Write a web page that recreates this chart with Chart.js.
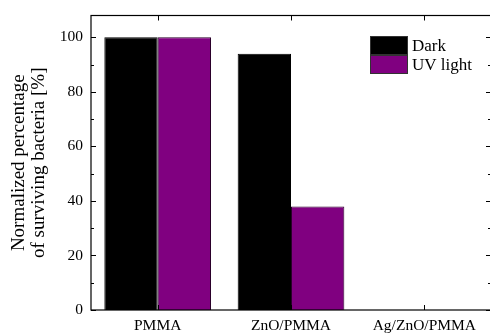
<!DOCTYPE html>
<html lang="en">
<head>
    <meta charset="UTF-8">
    <title>Surviving bacteria</title>
    <script src="https://cdn.jsdelivr.net/npm/chart.js"></script>
    <style>
        body {
            margin: 0;
            padding: 0;
            background: white;
            overflow: hidden;
        }
        .wrap {
            width: 490px;
            height: 333px;
            overflow: hidden;
        }
    </style>
</head>
<body>
    <div class="wrap">
        <canvas id="bacteriaChart" width="492" height="333"></canvas>
    </div>

    <script>
        const categories = ['PMMA', 'ZnO/PMMA', 'Ag/ZnO/PMMA'];
        const darkValues = [100, 94, 0];
        const uvValues = [100, 38, 0];
        const seriesNames = ['Dark', 'UV light'];
        const yTicks = [0, 20, 40, 60, 80, 100];

        const serif = "'Liberation Serif', 'Times New Roman', serif";

        // frame, inward ticks and the boxed legend in the top right corner
        const framePlugin = {
            id: 'frame',
            afterDraw(chart) {
                const c = chart.ctx;
                const a = chart.chartArea;
                const x = chart.scales.x;
                const y = chart.scales.y;
                c.save();
                c.strokeStyle = '#000';
                c.lineWidth = 1.2;
                c.strokeRect(a.left, a.top, a.right - a.left, a.bottom - a.top);

                c.lineWidth = 1;
                c.beginPath();
                for (let v = 0; v <= 100; v += 10) {
                    const py = Math.round(y.getPixelForValue(v)) + 0.5;
                    const len = v % 20 === 0 ? 5 : 3;
                    c.moveTo(a.left, py); c.lineTo(a.left + len, py);
                    c.moveTo(a.right, py); c.lineTo(a.right - len, py);
                }
                categories.forEach((_, i) => {
                    const px = Math.round(x.getPixelForValue(i)) + 0.5;
                    c.moveTo(px, a.bottom); c.lineTo(px, a.bottom - 5);
                    c.moveTo(px, a.top); c.lineTo(px, a.top + 5);
                });
                c.stroke();

                // legend
                const lx = 370, ly = 36, bw = 38, bh = 19;
                c.font = '17px ' + serif;
                c.textBaseline = 'middle';
                chart.data.datasets.forEach((ds, i) => {
                    const top = ly + i * bh;
                    c.fillStyle = ds.backgroundColor;
                    c.fillRect(lx, top, bw, bh);
                    c.strokeStyle = '#333';
                    c.lineWidth = 1;
                    c.strokeRect(lx + 0.5, top + 0.5, bw - 1, bh - 1);
                    c.fillStyle = '#000';
                    c.fillText(ds.label, lx + bw + 4, top + bh / 2 + 1);
                });
                c.restore();
            }
        };

        const ctx = document.getElementById('bacteriaChart').getContext('2d');
        new Chart(ctx, {
            type: 'bar',
            data: {
                labels: categories,
                datasets: [
                    {
                        label: seriesNames[0],
                        data: darkValues,
                        backgroundColor: '#000000',
                        borderColor: '#000000',
                        borderWidth: 1
                    },
                    {
                        label: seriesNames[1],
                        data: uvValues,
                        backgroundColor: '#800080',
                        borderColor: '#2a002a',
                        borderWidth: 1
                    }
                ]
            },
            options: {
                responsive: false,
                animation: false,
                layout: { padding: { top: 15.5, right: 1, left: 0, bottom: 0 } },
                categoryPercentage: 0.8,
                barPercentage: 1.0,
                plugins: {
                    legend: { display: false },
                    tooltip: { enabled: false }
                },
                scales: {
                    x: {
                        grid: { display: false, drawTicks: false },
                        border: { display: false },
                        ticks: {
                            color: '#000',
                            padding: 7,
                            font: { family: serif, size: 15.5 }
                        },
                        afterFit(scale) {
                            scale.height = 23;
                            scale.paddingLeft = 0;
                            scale.paddingRight = 0;
                        }
                    },
                    y: {
                        min: 0,
                        max: 108,
                        afterBuildTicks(scale) {
                            scale.ticks = yTicks.map(v => ({ value: v }));
                        },
                        grid: { display: false, drawTicks: false },
                        border: { display: false },
                        ticks: {
                            color: '#000',
                            padding: 8,
                            font: { family: serif, size: 15.5 }
                        },
                        title: {
                            display: true,
                            text: ['Normalized percentage', 'of surviving bacteria [%]'],
                            color: '#000',
                            font: { family: serif, size: 19, lineHeight: 1.07 },
                            padding: { top: 9, bottom: 0 }
                        },
                        afterFit(scale) {
                            scale.width = 91;
                            scale.paddingTop = 0;
                            scale.paddingBottom = 0;
                        }
                    }
                }
            },
            plugins: [framePlugin]
        });
    </script>
</body>
</html>
